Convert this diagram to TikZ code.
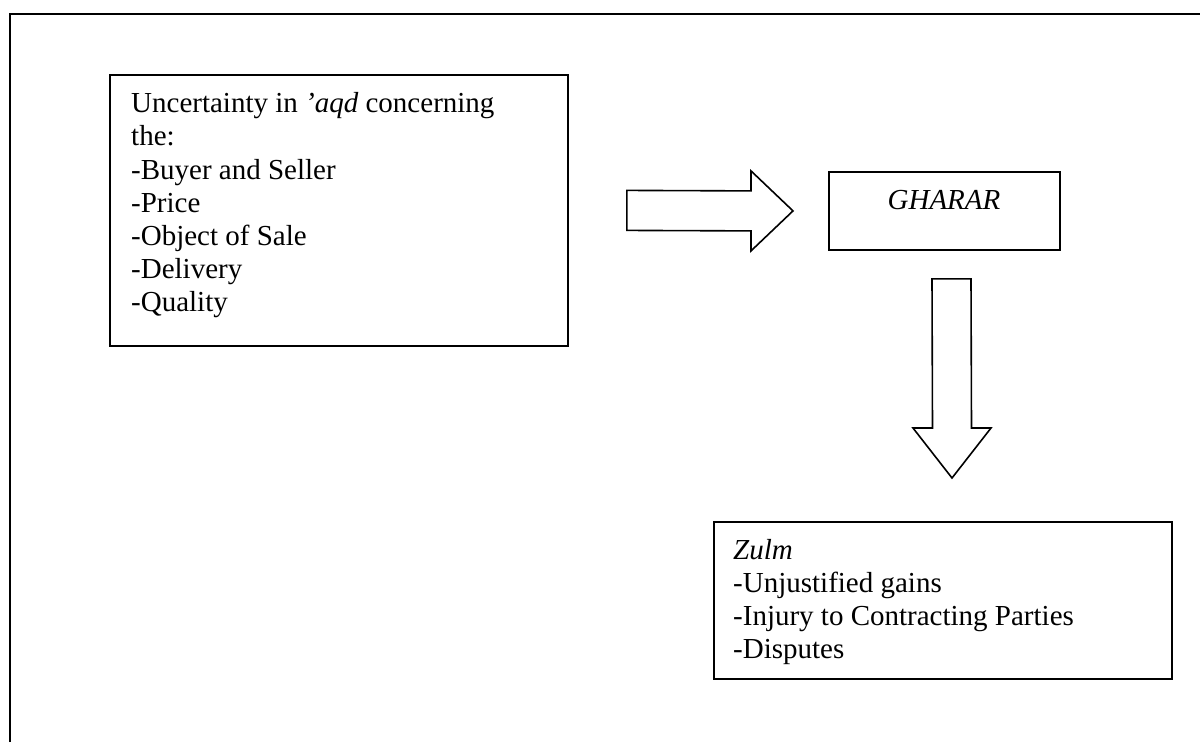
\documentclass[tikz,border=0pt]{standalone}
\usepackage{fontspec}
\setmainfont{Liberation Serif}
\usetikzlibrary{calc}
\begin{document}
\begin{tikzpicture}[x=1pt,y=-1pt,
  frame/.style={line width=2.2pt},
  box/.style={draw,line width=1.8pt,inner sep=0pt,anchor=north west},
  txt/.style={inner sep=0pt,anchor=base west,align=left,
    font=\fontsize{29}{33.1}\selectfont},
  blockarrow/.style={draw,line width=1.6pt,line join=miter,fill=white}]
\useasboundingbox (0,0) rectangle (1200,742);
% page frame (runs off the right and bottom edges)
\draw[frame] (10,742) -- (10,14) -- (1200,14);

% boxes
\node[box,minimum width=458pt,minimum height=271pt] (cause) at (109,74) {};
\node[box,minimum width=231pt,minimum height=78pt] (gharar) at (828,171) {};
\node[box,minimum width=458pt,minimum height=157pt] (zulm) at (713,521) {};

% box texts
\node[txt,anchor=north west] (causetext) at (131,92.5)
  {Uncertainty in \textit{’aqd} concerning\\the:\\-Buyer and Seller\\-Price\\-Object of Sale\\-Delivery\\-Quality};
\node[txt,anchor=base] (gharartext) at (944,209) {\textit{GHARAR}};
\node[txt,anchor=north west] (zulmtext) at (733,539.2)
  {\textit{Zulm}\\-Unjustified gains\\-Injury to Contracting Parties\\-Disputes};

% block arrow: cause -> gharar
\coordinate (h0) at ($(cause.east)+(58,0)$);
\coordinate (h1) at ($(gharar.west)+(-35,0)$);
\draw[blockarrow] ($(h0)+(0,-20)$) -- ($(h1)+(-42,-20)$) -- ($(h1)+(-42,-40)$)
  -- (h1) -- ($(h1)+(-42,40)$) -- ($(h1)+(-42,20)$) -- ($(h0)+(0,20)$) -- cycle;

% block arrow: gharar -> zulm
\coordinate (v0) at ($(gharar.south west)+(123.5,28)$);
\coordinate (v1) at ($(zulm.north west)+(239,-43)$);
\draw[blockarrow] ($(v0)+(-19.5,0)$) -- ($(v0)+(19.5,0)$) -- ($(v1)+(19.5,-50)$)
  -- ($(v1)+(39,-50)$) -- (v1) -- ($(v1)+(-39,-50)$) -- ($(v1)+(-19.5,-50)$) -- cycle;
\end{tikzpicture}
\end{document}
